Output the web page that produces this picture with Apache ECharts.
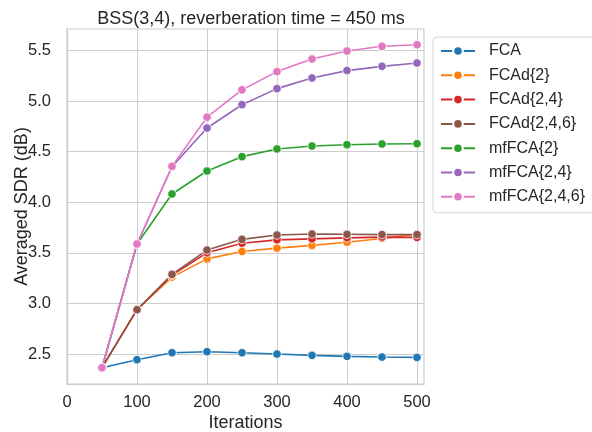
<!DOCTYPE html>
<html>
<head>
<meta charset="utf-8">
<script src="https://cdn.jsdelivr.net/npm/echarts@6/dist/echarts.min.js"></script>
<style>html,body{margin:0;padding:0;background:#fff}#c{width:592px;height:432px}</style>
</head>
<body>
<div id="c"></div>
<script>
const iterations = [50, 100, 150, 200, 250, 300, 350, 400, 450, 500];
const seriesNames = ['FCA', 'FCAd{2}', 'FCAd{2,4}', 'FCAd{2,4,6}', 'mfFCA{2}', 'mfFCA{2,4}', 'mfFCA{2,4,6}'];
const fca        = [2.365, 2.444, 2.513, 2.523, 2.513, 2.500, 2.487, 2.477, 2.470, 2.467];
const fcad2      = [2.365, 2.938, 3.260, 3.440, 3.513, 3.546, 3.573, 3.605, 3.642, 3.686];
const fcad24     = [2.365, 2.938, 3.280, 3.500, 3.595, 3.628, 3.638, 3.648, 3.655, 3.652];
const fcad246    = [2.365, 2.938, 3.287, 3.527, 3.633, 3.676, 3.686, 3.683, 3.680, 3.680];
const mffca2     = [2.365, 3.587, 4.081, 4.308, 4.450, 4.526, 4.555, 4.568, 4.575, 4.578];
const mffca24    = [2.365, 3.587, 4.350, 4.733, 4.963, 5.122, 5.227, 5.300, 5.342, 5.375];
const mffca246   = [2.365, 3.587, 4.354, 4.840, 5.110, 5.290, 5.415, 5.494, 5.540, 5.556];
const xTicks = [0, 100, 200, 300, 400, 500];
const yTicks = [2.5, 3.0, 3.5, 4.0, 4.5, 5.0, 5.5];
const colors = ['#1f77b4', '#ff7f0e', '#d62728', '#8c564b', '#2ca02c', '#9467bd', '#e377c2'];
const allValues = [fca, fcad2, fcad24, fcad246, mffca2, mffca24, mffca246];

const font = 'Liberation Sans, Arial, sans-serif';
const chart = echarts.init(document.getElementById('c'), null, {renderer: 'canvas'});
chart.setOption({
  animation: false,
  backgroundColor: '#fff',
  color: colors,
  title: {
    text: 'BSS(3,4), reverberation time = 450 ms',
    left: 246, top: 5, textAlign: 'center',
    textStyle: {fontFamily: font, fontSize: 18, fontWeight: 'normal', color: '#262626'}
  },
  grid: {left: 67, right: 168, top: 29, bottom: 48, show: true, borderColor: '#cccccc', borderWidth: 1.2, containLabel: false, outerBoundsMode: 'none'},
  legend: {
    data: seriesNames,
    orient: 'vertical',
    left: 433, top: 37,
    padding: [6, 10, 8, 7],
    itemWidth: 34, itemHeight: 12, itemGap: 8.3,
    borderColor: '#d4d4d4', borderWidth: 1, borderRadius: 4,
    textStyle: {fontFamily: font, fontSize: 16, color: '#262626', padding: [0, 0, 0, 9]}
  },
  xAxis: {
    type: 'value', min: 0, max: 510,
    name: 'Iterations', nameLocation: 'middle', nameGap: 30, nameMoveOverlap: false,
    nameTextStyle: {fontFamily: font, fontSize: 18, color: '#262626'},
    axisLine: {show: true, lineStyle: {color: '#cccccc', width: 1.2}},
    axisTick: {show: false, customValues: xTicks},
    axisLabel: {customValues: xTicks, fontFamily: font, fontSize: 16.5, color: '#262626', margin: 10},
    splitLine: {show: true, lineStyle: {color: '#cccccc', width: 1}}
  },
  yAxis: {
    type: 'value', min: 2.204, max: 5.711,
    name: 'Averaged SDR (dB)', nameLocation: 'middle', nameGap: 36, nameMoveOverlap: false,
    nameTextStyle: {fontFamily: font, fontSize: 18, color: '#262626'},
    axisLine: {show: true, lineStyle: {color: '#cccccc', width: 1.2}},
    axisTick: {show: false, customValues: yTicks},
    axisLabel: {customValues: yTicks, formatter: v => v.toFixed(1), fontFamily: font, fontSize: 16.5, color: '#262626', margin: 16},
    splitLine: {show: true, lineStyle: {color: '#cccccc', width: 1}}
  },
  series: seriesNames.map((n, i) => ({
    name: n,
    type: 'line',
    data: iterations.map((x, j) => [x, allValues[i][j]]),
    symbol: 'circle',
    symbolSize: 8.5,
    lineStyle: {width: 1.6, color: colors[i]},
    itemStyle: {color: colors[i], borderColor: '#ffffff', borderWidth: 0.8},
    emphasis: {disabled: true}
  }))
});
</script>
</body>
</html>
